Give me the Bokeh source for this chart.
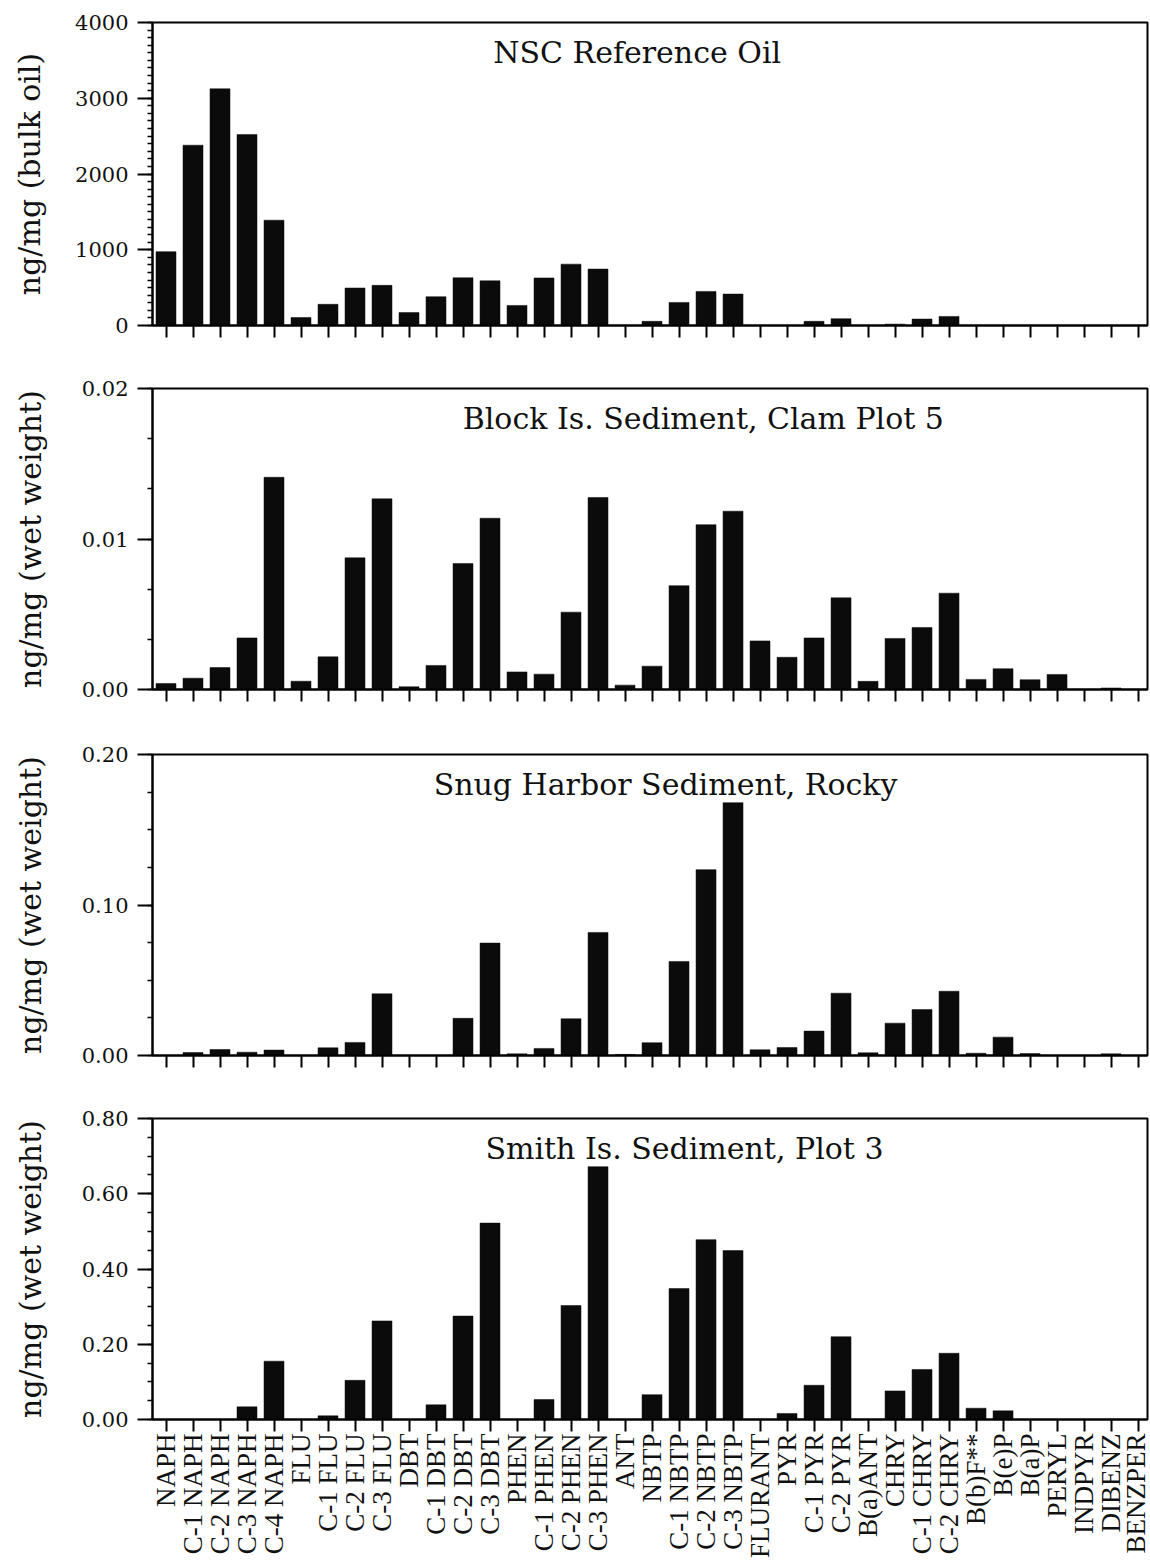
import math
import numpy as np
from bokeh.plotting import figure
from bokeh.layouts import column
from bokeh.models import Range1d, FixedTicker, Label, NumeralTickFormatter
from bokeh.embed import file_html
from bokeh.resources import INLINE

categories = ["NAPH", "C-1 NAPH", "C-2 NAPH", "C-3 NAPH", "C-4 NAPH",
              "FLU", "C-1 FLU", "C-2 FLU", "C-3 FLU",
              "DBT", "C-1 DBT", "C-2 DBT", "C-3 DBT",
              "PHEN", "C-1 PHEN", "C-2 PHEN", "C-3 PHEN", "ANT",
              "NBTP", "C-1 NBTP", "C-2 NBTP", "C-3 NBTP",
              "FLURANT", "PYR", "C-1 PYR", "C-2 PYR", "B(a)ANT",
              "CHRY", "C-1 CHRY", "C-2 CHRY", "B(b)F**", "B(e)P", "B(a)P",
              "PERYL", "INDPYR", "DIBENZ", "BENZPER"]

nsc_oil = [975, 2380, 3125, 2520, 1390,
           105, 280, 495, 530,
           170, 380, 630, 590,
           265, 628, 810, 745, 0,
           55, 304, 450, 415,
           0, 0, 55, 90, 0,
           18, 85, 120, 0, 0, 0,
           0, 0, 0, 0]

block_is = [0.0004, 0.00075, 0.00146, 0.00343, 0.0141,
            0.00055, 0.00217, 0.00875, 0.01267,
            0.00018, 0.0016, 0.00837, 0.01138,
            0.00117, 0.00102, 0.00514, 0.01276, 0.00029,
            0.00155, 0.0069, 0.01095, 0.01185,
            0.00323, 0.00214, 0.00343, 0.00609, 0.00054,
            0.00339, 0.00412, 0.0064, 0.00067, 0.00138, 0.00065,
            0.001, 0.0, 0.0001, 0.0]

snug_harbor = [0.0, 0.002, 0.004, 0.0022, 0.0036,
               0.0, 0.0051, 0.0087, 0.041,
               0.0, 0.0, 0.0247, 0.0747,
               0.0011, 0.0047, 0.0244, 0.0818, 0.0007,
               0.0085, 0.0625, 0.1235, 0.168,
               0.0038, 0.0053, 0.0162, 0.0414, 0.0018,
               0.0215, 0.0305, 0.0427, 0.0015, 0.0122, 0.0013,
               0.0, 0.0, 0.0011, 0.0]

smith_is = [0.0, 0.0, 0.0, 0.0336, 0.155,
            0.0, 0.0097, 0.104, 0.262,
            0.0, 0.039, 0.275, 0.522,
            0.0, 0.053, 0.303, 0.672, 0.0,
            0.066, 0.348, 0.478, 0.449,
            0.0, 0.016, 0.091, 0.22, 0.0,
            0.076, 0.133, 0.176, 0.030, 0.023, 0.0,
            0.0, 0.0, 0.0, 0.0]

titles = ["NSC Reference Oil", "Block Is. Sediment, Clam Plot 5",
          "Snug Harbor Sediment, Rocky", "Smith Is. Sediment, Plot 3"]
y_titles = ["ng/mg (bulk oil)", "ng/mg (wet weight)",
            "ng/mg (wet weight)", "ng/mg (wet weight)"]
y_major_ticks = [[0, 1000, 2000, 3000, 4000],
                 [0.0, 0.01, 0.02],
                 [0.0, 0.10, 0.20],
                 [0.0, 0.20, 0.40, 0.60, 0.80]]
y_minor_steps = [100, 0.02 / 6, 0.025, 0.05]
y_formats = ["0", "0.00", "0.00", "0.00"]
series = [nsc_oil, block_is, snug_harbor, smith_is]

# layout (pixels)
heights = [357, 365, 365, 479]
b_top = [22, 31, 32, 31]
b_bottom = [32, 33, 32, 147]
title_x = [17.45, 19.9, 18.5, 19.2]
label_standoff = [25, 31, 31, 31]

SERIF = "DejaVu Serif"
TIMES = "Liberation Serif"
x = list(range(len(categories)))

figs = []
for i in range(4):
    ymax = y_major_ticks[i][-1]
    p = figure(width=1150, height=heights[i], output_backend="svg",
               toolbar_location=None, tools="",
               x_range=Range1d(-0.5, len(categories) - 0.65),
               y_range=Range1d(0, ymax),
               min_border_left=152, min_border_right=3,
               min_border_top=b_top[i], min_border_bottom=b_bottom[i])
    p.vbar(x=x, top=series[i], width=0.74, bottom=0,
           fill_color="#0b0b0b", line_color="#0b0b0b", line_width=0.5)
    p.xgrid.visible = False
    p.ygrid.visible = False
    p.outline_line_color = "black"
    p.outline_line_width = 2
    p.background_fill_color = "white"
    p.border_fill_color = "white"

    # y axis
    minor = list(np.arange(0, ymax + y_minor_steps[i] / 2, y_minor_steps[i]))
    p.yaxis.ticker = FixedTicker(ticks=y_major_ticks[i], minor_ticks=minor)
    p.yaxis.formatter = NumeralTickFormatter(format=y_formats[i])
    p.yaxis.axis_line_width = 2
    p.yaxis.major_tick_line_width = 2
    p.yaxis.major_tick_out = 15
    p.yaxis.major_tick_in = 0
    p.yaxis.minor_tick_line_width = 1.5
    p.yaxis.minor_tick_out = 5
    p.yaxis.minor_tick_in = 0
    p.yaxis.major_label_text_font = SERIF
    p.yaxis.major_label_text_font_size = "21px"
    p.yaxis.major_label_text_color = "#111111"
    p.yaxis.major_label_standoff = 9
    p.yaxis.axis_label = y_titles[i]
    p.yaxis.axis_label_text_font = SERIF
    p.yaxis.axis_label_text_font_size = "30px"
    p.yaxis.axis_label_text_font_style = "normal"
    p.yaxis.axis_label_text_color = "#111111"
    p.yaxis.axis_label_standoff = label_standoff[i]

    # x axis
    p.xaxis.ticker = FixedTicker(ticks=x, minor_ticks=[])
    p.xaxis.axis_line_width = 2
    p.xaxis.major_tick_line_width = 2
    p.xaxis.major_tick_out = 12
    p.xaxis.major_tick_in = 0
    if i < 3:
        p.xaxis.major_label_text_font_size = "0px"
        p.xaxis.major_label_overrides = {k: "" for k in x}
    else:
        p.xaxis.major_label_overrides = {k: c for k, c in zip(x, categories)}
        p.xaxis.major_label_orientation = math.pi / 2
        p.xaxis.major_label_text_font = TIMES
        p.xaxis.major_label_text_font_size = "27px"
        p.xaxis.major_label_text_color = "#111111"
        p.xaxis.major_label_standoff = 2

    p.add_layout(Label(x=title_x[i], y=ymax * (1 - 30 / 301), text=titles[i],
                       text_align="center", text_baseline="middle",
                       text_font=SERIF, text_font_size="30px",
                       text_color="#111111"))
    figs.append(p)

layout = column(*figs, spacing=0)
open("out.html", "w").write(file_html(layout, INLINE))
